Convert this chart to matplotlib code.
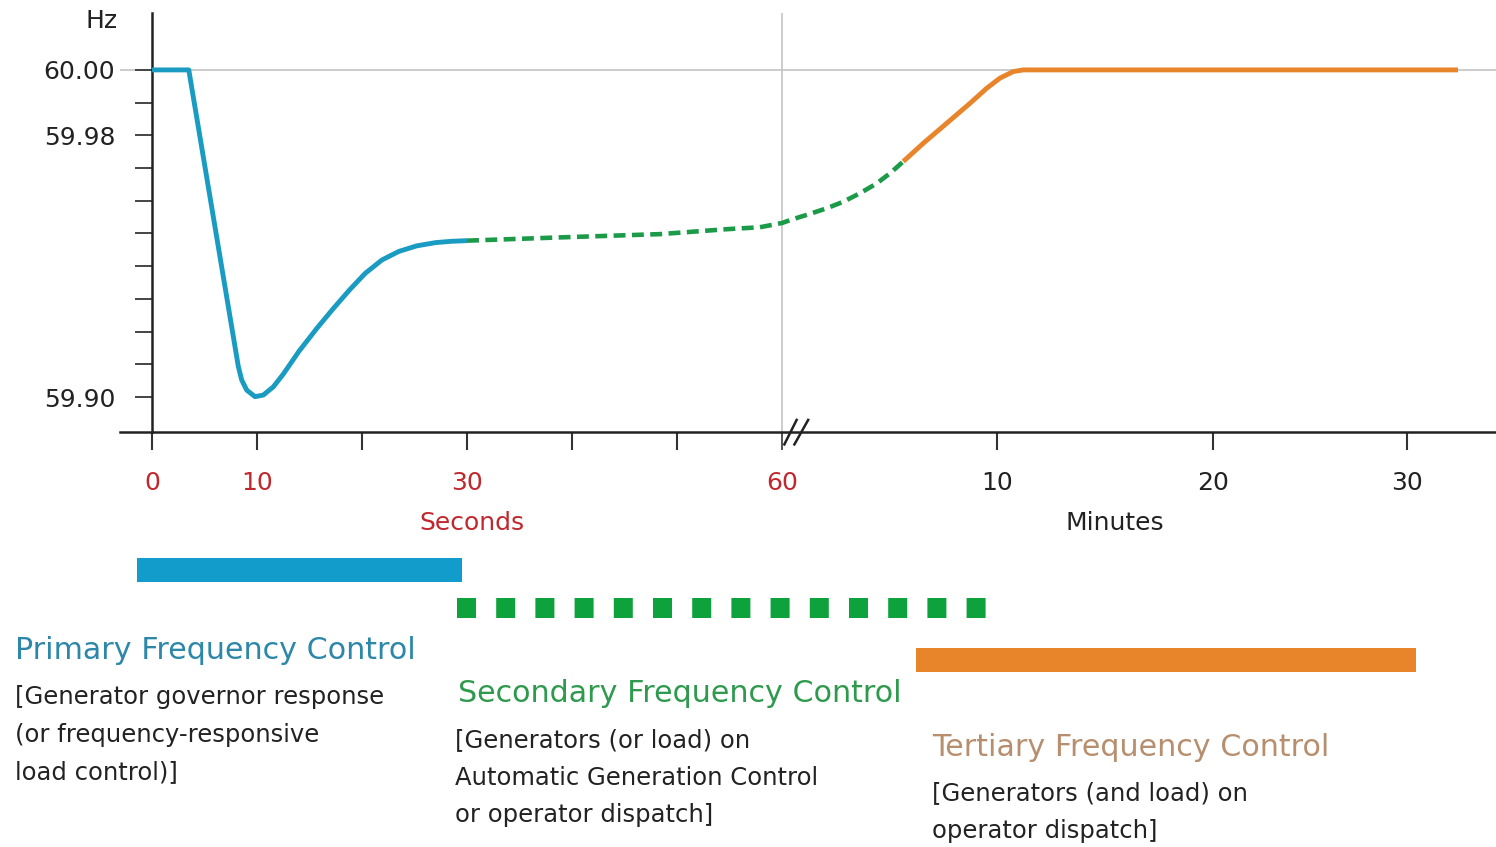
import numpy as np
import matplotlib
matplotlib.use('Agg')
import matplotlib.pyplot as plt
from matplotlib.path import Path

# ---------------- data (time in seconds, frequency in Hz) ----------------
primary_t = [0, 3.5, 8.22, 8.54, 9.02, 9.81, 10.6, 11.55, 12.5, 14.0, 15.7, 17.2,
             18.8, 20.3, 21.9, 23.5, 25.2, 27.0, 28.5, 30.0]
primary_hz = [60.000, 60.000, 59.9093, 59.9052, 59.9021, 59.9001, 59.9006, 59.9031,
              59.9070, 59.9140, 59.9210, 59.9268, 59.9327, 59.9378, 59.9419,
              59.9445, 59.9462, 59.9472, 59.9476, 59.9478]

secondary_t = [30.0, 38.9, 48.4, 54.7, 57.9, 60.0, 88.2, 130.4, 172.3, 214.0,
               255.9, 297.8, 331.3, 364.6]
secondary_hz = [59.9478, 59.9488, 59.9498, 59.9513, 59.9519, 59.9532, 59.9544,
                59.9560, 59.9577, 59.9597, 59.9623, 59.9653, 59.9684, 59.9720]

tertiary_t = [364.6, 415.0, 473.7, 532.1, 574.2, 608.2, 645.2, 673.0, 1200.0, 1958.0]
tertiary_hz = [59.9720, 59.9776, 59.9837, 59.9898, 59.9944, 59.9975, 59.9995,
               60.000, 60.000, 60.000]

# time spans of each control (seconds)
primary_span = [-1.4, 29.5]
secondary_span = [29.0, 572.0]
tertiary_span = [396.6, 1828.0]

sec_ticks = [0, 10, 30, 60]
sec_labels = ['0', '10', '30', '60']
sec_minor = [20, 40, 50]
min_ticks = [600, 1200, 1800]
min_labels = ['10', '20', '30']
y_ticks = [59.90, 59.91, 59.92, 59.93, 59.94, 59.95, 59.96, 59.97, 59.98, 59.99, 60.00]
y_labels = ['59.90', '', '', '', '', '', '', '', '59.98', '', '60.00']

titles = ['Primary Frequency Control', 'Secondary Frequency Control',
          'Tertiary Frequency Control']
bodies = ['[Generator governor response\n(or frequency-responsive\nload control)]',
          '[Generators (or load) on\nAutomatic Generation Control\nor operator dispatch]',
          '[Generators (and load) on\noperator dispatch]']

# ---------------- styling ----------------
BLUE = '#1a9bc2'
BLUE_BAR = '#129ccb'
GREEN = '#1b9a48'
GREEN_SQ = '#0ea23c'
ORANGE = '#e8842a'
RED = '#c0282e'
DARK = '#222222'
GRAY = '#c4c4c4'
TITLE_COLORS = ['#2c87a8', '#2f9a4e', '#b78f6f']

W, H = 1496, 847


def fx(px):
    return px / W


def fy(py):
    return 1 - py / H


# piecewise-linear time axis (seconds part, then compressed minutes part)
T_ANCH = np.array([0.0, 60.0, 600.0, 1200.0, 1800.0])
P_ANCH = np.array([0.0, 60.0, 80.48, 101.05, 119.52])
S_LO = (P_ANCH[1] - P_ANCH[0]) / (T_ANCH[1] - T_ANCH[0])
S_HI = (P_ANCH[-1] - P_ANCH[-2]) / (T_ANCH[-1] - T_ANCH[-2])


def fwd(t):
    t = np.asarray(t, dtype=float)
    p = np.interp(t, T_ANCH, P_ANCH)
    p = np.where(t < T_ANCH[0], P_ANCH[0] + (t - T_ANCH[0]) * S_LO, p)
    p = np.where(t > T_ANCH[-1], P_ANCH[-1] + (t - T_ANCH[-1]) * S_HI, p)
    return p


def inv(p):
    p = np.asarray(p, dtype=float)
    t = np.interp(p, P_ANCH, T_ANCH)
    t = np.where(p < P_ANCH[0], T_ANCH[0] + (p - P_ANCH[0]) / S_LO, t)
    t = np.where(p > P_ANCH[-1], T_ANCH[-1] + (p - P_ANCH[-1]) / S_HI, t)
    return t


fig = plt.figure(figsize=(W / 100, H / 100), dpi=100)
fig.patch.set_facecolor('white')

ax = fig.add_axes([fx(120), fy(432), fx(1496) - fx(120), fy(13) - fy(432)])
ax.set_xscale('function', functions=(fwd, inv))
ax.set_xlim(-3.05, 2075.5)
ax.set_ylim(59.8893, 60.0174)

for s in ('top', 'right'):
    ax.spines[s].set_visible(False)
ax.spines['left'].set_position(('data', 0))
ax.spines['left'].set_linewidth(1.8)
ax.spines['left'].set_color(DARK)
ax.spines['bottom'].set_linewidth(1.8)
ax.spines['bottom'].set_color(DARK)

# reference lines
ax.axhline(60.0, color=GRAY, lw=1.2, zorder=0)
ax.axvline(60, color=GRAY, lw=1.2, zorder=0)

# curves
ax.plot(primary_t, primary_hz, color=BLUE, lw=3.5, solid_capstyle='butt',
        solid_joinstyle='round', zorder=3)
ax.plot(secondary_t, secondary_hz, color=GREEN, lw=3.3, dashes=(2.6, 1.4),
        dash_capstyle='butt', zorder=3)
ax.plot(tertiary_t, tertiary_hz, color=ORANGE, lw=3.5, solid_capstyle='butt',
        solid_joinstyle='round', zorder=3)

# y ticks
ax.set_yticks(y_ticks)
ax.set_yticklabels(y_labels)
ax.tick_params(axis='y', direction='out', length=12.5, width=1.4, pad=14,
               labelsize=18, colors='#444444', labelcolor=DARK)

# x ticks
ax.set_xticks(sec_ticks + min_ticks)
ax.set_xticklabels(sec_labels + min_labels)
ax.set_xticks(sec_minor, minor=True)
ax.tick_params(axis='x', which='both', direction='out', length=13, width=1.5,
               pad=15, labelsize=18, colors='#333333')
for i, lbl in enumerate(ax.get_xticklabels()):
    lbl.set_color(RED if i < len(sec_ticks) else DARK)
for i, tk in enumerate(ax.xaxis.get_major_ticks()):
    if i == 3:
        tk.tick1line.set_color(GRAY)
        tk.tick1line.set_markeredgewidth(1.2)
    elif i in (4, 5):
        tk.tick1line.set_color('#9a9a9a')

# axis break mark "//"
brk = Path([(1.3, -13), (14.7, 13.7), (11.3, -13), (26.3, 13.7)],
           [Path.MOVETO, Path.LINETO, Path.MOVETO, Path.LINETO])
ax.plot([60], [0], transform=ax.get_xaxis_transform(), marker=brk,
        markersize=2 * 26.3 * 0.72, markeredgewidth=1.8, markeredgecolor=DARK,
        linestyle='none', clip_on=False, zorder=5)

fig.text(fx(118), fy(21), 'Hz', ha='right', va='center', fontsize=18, color=DARK)
fig.text(fx(472), fy(530), 'Seconds', ha='center', va='baseline', fontsize=18, color=RED)
fig.text(fx(1115), fy(530), 'Minutes', ha='center', va='baseline', fontsize=18, color=DARK)

# ---------------- control bars ----------------
ax2 = fig.add_axes([fx(120), 0, fx(1496) - fx(120), fy(540)], sharex=ax)
ax2.set_ylim(H, 540)
ax2.axis('off')
ax2.broken_barh([(primary_span[0], primary_span[1] - primary_span[0])], (558, 24),
                facecolor=BLUE_BAR, edgecolor='none')
ax2.plot(secondary_span, [608, 608], color=GREEN_SQ, lw=14.4, dashes=(0.95, 1.01),
         dash_capstyle='butt', solid_capstyle='butt')
ax2.broken_barh([(tertiary_span[0], tertiary_span[1] - tertiary_span[0])], (648, 24),
                facecolor=ORANGE, edgecolor='none')

# ---------------- descriptions ----------------
title_pos = [(15, 659), (458, 702), (932, 756)]
body_pos = [(15, 704), (455, 747), (932, 800)]
for k in range(3):
    tx, ty = title_pos[k]
    fig.text(fx(tx), fy(ty), titles[k], color=TITLE_COLORS[k], fontsize=21.7,
             va='baseline', ha='left')
    bx, by = body_pos[k]
    for j, line in enumerate(bodies[k].split('\n')):
        fig.text(fx(bx), fy(by + 37.5 * j), line, color=DARK, fontsize=17.5,
                 va='baseline', ha='left')

fig.savefig('out.png', dpi=100, facecolor='white')
